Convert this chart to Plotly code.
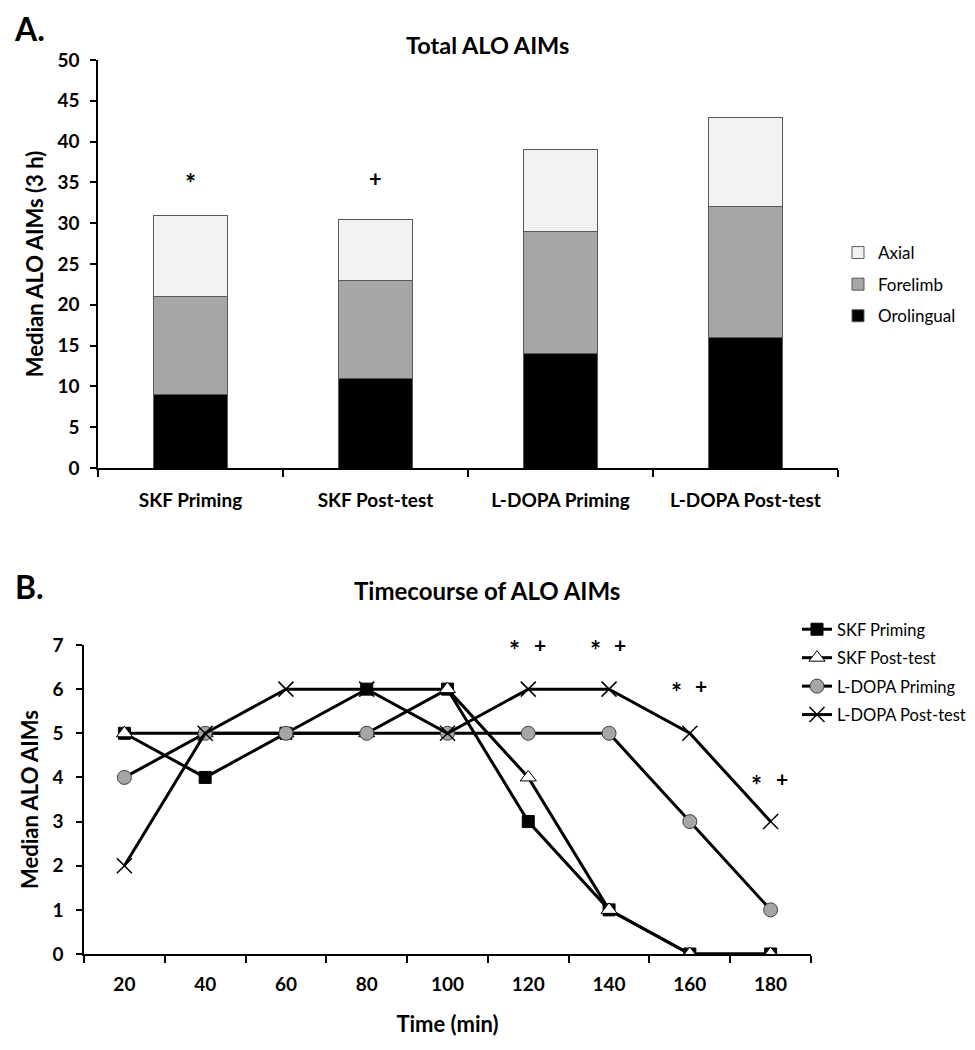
import plotly.graph_objects as go

# ---------------- data ----------------
groups = ["SKF Priming", "SKF Post-test", "L-DOPA Priming", "L-DOPA Post-test"]
orolingual = [9, 11, 14, 16]
forelimb = [12, 12, 15, 16]
axial = [10, 7.5, 10, 11]
bar_marks = ["*", "+", "", ""]
bar_mark_y = 35.5

times = ["20", "40", "60", "80", "100", "120", "140", "160", "180"]
skf_priming = [5, 4, 5, 6, 6, 3, 1, 0, 0]
skf_post = [5, 5, 5, 5, 6, 4, 1, 0, 0]
ldopa_priming = [4, 5, 5, 5, 5, 5, 5, 3, 1]
ldopa_post = [2, 5, 6, 6, 5, 6, 6, 5, 3]
sig_times = ["120", "140", "160", "180"]
sig_y = [6.99, 6.99, 6.05, 3.95]

FONT = "Lato"
W, H = 975, 1050
OFF = 8  # default page body margin

def px(x):
    return (x - OFF) / W

def py(y):
    return 1 - (y - OFF) / H

fig = go.Figure()

# ---------------- Panel A ----------------
bar_line = dict(color="#595959", width=1)
for vals, name, col, rank in [(orolingual, "Orolingual", "#000000", 3),
                              (forelimb, "Forelimb", "#a6a6a6", 2),
                              (axial, "Axial", "#f2f2f2", 1)]:
    fig.add_trace(go.Bar(x=groups, y=vals, name=name, marker=dict(color=col, line=bar_line),
                         width=0.405, xaxis="x", yaxis="y", legend="legend", legendgroup=name,
                         legendrank=rank))

# ---------------- Panel B ----------------
lw = 3
fig.add_trace(go.Scatter(x=times, y=skf_priming, name="SKF Priming", mode="lines+markers",
                         line=dict(color="black", width=lw),
                         marker=dict(symbol="square", size=12, color="black", line=dict(color="black", width=1)),
                         xaxis="x2", yaxis="y2", legend="legend2", legendgroup="a"))
fig.add_trace(go.Scatter(x=times, y=skf_post, name="SKF Post-test", mode="lines+markers",
                         line=dict(color="black", width=lw),
                         marker=dict(symbol="triangle-up", size=14, color="white", line=dict(color="black", width=1)),
                         xaxis="x2", yaxis="y2", legend="legend2", legendgroup="b"))
fig.add_trace(go.Scatter(x=times, y=ldopa_priming, name="L-DOPA Priming", mode="lines+markers",
                         line=dict(color="black", width=lw),
                         marker=dict(symbol="circle", size=14, color="#a6a6a6", line=dict(color="#404040", width=1)),
                         xaxis="x2", yaxis="y2", legend="legend2", legendgroup="c"))
fig.add_trace(go.Scatter(x=times, y=ldopa_post, name="L-DOPA Post-test", mode="lines+markers",
                         line=dict(color="black", width=lw),
                         marker=dict(symbol="x-thin-open", size=15, color="black", line=dict(color="black", width=1.5)),
                         xaxis="x2", yaxis="y2", legend="legend2", legendgroup="d"))

tickfont = dict(family=FONT, size=19, color="black", weight="bold")
axis_common = dict(showline=True, linecolor="black", linewidth=1.5, ticks="outside",
                   tickcolor="black", ticklen=6, tickwidth=1.5, showgrid=False, zeroline=False,
                   tickfont=tickfont, automargin=False)

def pap(text, x, y, size):
    return dict(text=text, x=px(x), y=py(y), xref="paper", yref="paper", showarrow=False,
                xanchor="center", yanchor="middle", font=dict(family=FONT, size=size, color="black"))

annotations = [
    pap("<b>A.</b>", 29, 28, 32),
    pap("<b>B.</b>", 29, 586, 32),
    pap("<b>Total ALO AIMs</b>", 487, 45, 23.5),
    pap("<b>Timecourse of ALO AIMs</b>", 487, 590, 24),
]

for g, m in zip(groups, bar_marks):
    if m:
        annotations.append(dict(text="<b>%s</b>" % m, x=g, y=bar_mark_y, xref="x", yref="y", showarrow=False,
                                xanchor="center", yanchor="middle",
                                font=dict(family=FONT, size=26 if m == "*" else 22, color="black"),
                                yshift=-5 if m == "*" else 0))

for t, yv in zip(sig_times, sig_y):
    i = times.index(t)
    annotations.append(dict(text="<b>*</b>", x=i - 0.17, y=yv, xref="x2", yref="y2", showarrow=False,
                            xanchor="center", yanchor="middle",
                            font=dict(family=FONT, size=26, color="black"), yshift=-5))
    annotations.append(dict(text="<b>+</b>", x=i + 0.14, y=yv, xref="x2", yref="y2", showarrow=False,
                            xanchor="center", yanchor="middle",
                            font=dict(family=FONT, size=21, color="black"), yshift=1))

fig.update_layout(
    width=W, height=H,
    margin=dict(l=0, r=0, t=0, b=0),
    paper_bgcolor="white", plot_bgcolor="white",
    barmode="stack",
    font=dict(family=FONT, color="black"),
    xaxis=dict(axis_common, domain=[px(98), px(838)], type="category", tickson="boundaries",
               range=[-0.5, 3.5], anchor="y", ticklen=7, ticklabelstandoff=14),
    yaxis=dict(axis_common, domain=[py(468), py(60)], range=[0, 50], dtick=5, anchor="x",
               ticklabelstandoff=7,
               title=dict(text="<b>Median ALO AIMs (3 h)</b>", font=dict(family=FONT, size=22, color="black"),
                          standoff=8)),
    xaxis2=dict(axis_common, domain=[px(84), px(811)], type="category", tickson="boundaries",
                range=[-0.5, 8.5], anchor="y2", ticklen=7, ticklabelstandoff=12,
                title=dict(text="<b>Time (min)</b>", font=dict(family=FONT, size=22, color="black"), standoff=23)),
    yaxis2=dict(axis_common, domain=[py(954), py(645)], range=[0, 7], dtick=1, anchor="x2",
                ticklabelstandoff=9,
                title=dict(text="<b>Median ALO AIMs</b>", font=dict(family=FONT, size=22, color="black"),
                           standoff=8)),
    legend=dict(x=px(838), y=py(235), xanchor="left", yanchor="top", traceorder="grouped",
                font=dict(family=FONT, size=17, color="black"), bgcolor="rgba(0,0,0,0)",
                itemwidth=30, tracegroupgap=6.5),
    legend2=dict(x=px(797), y=py(612), xanchor="left", yanchor="top", traceorder="grouped",
                 font=dict(family=FONT, size=16.5, color="black"), bgcolor="rgba(0,0,0,0)",
                 itemwidth=30, tracegroupgap=4),
    annotations=annotations,
    showlegend=True,
)

fig.write_html("out.html")
